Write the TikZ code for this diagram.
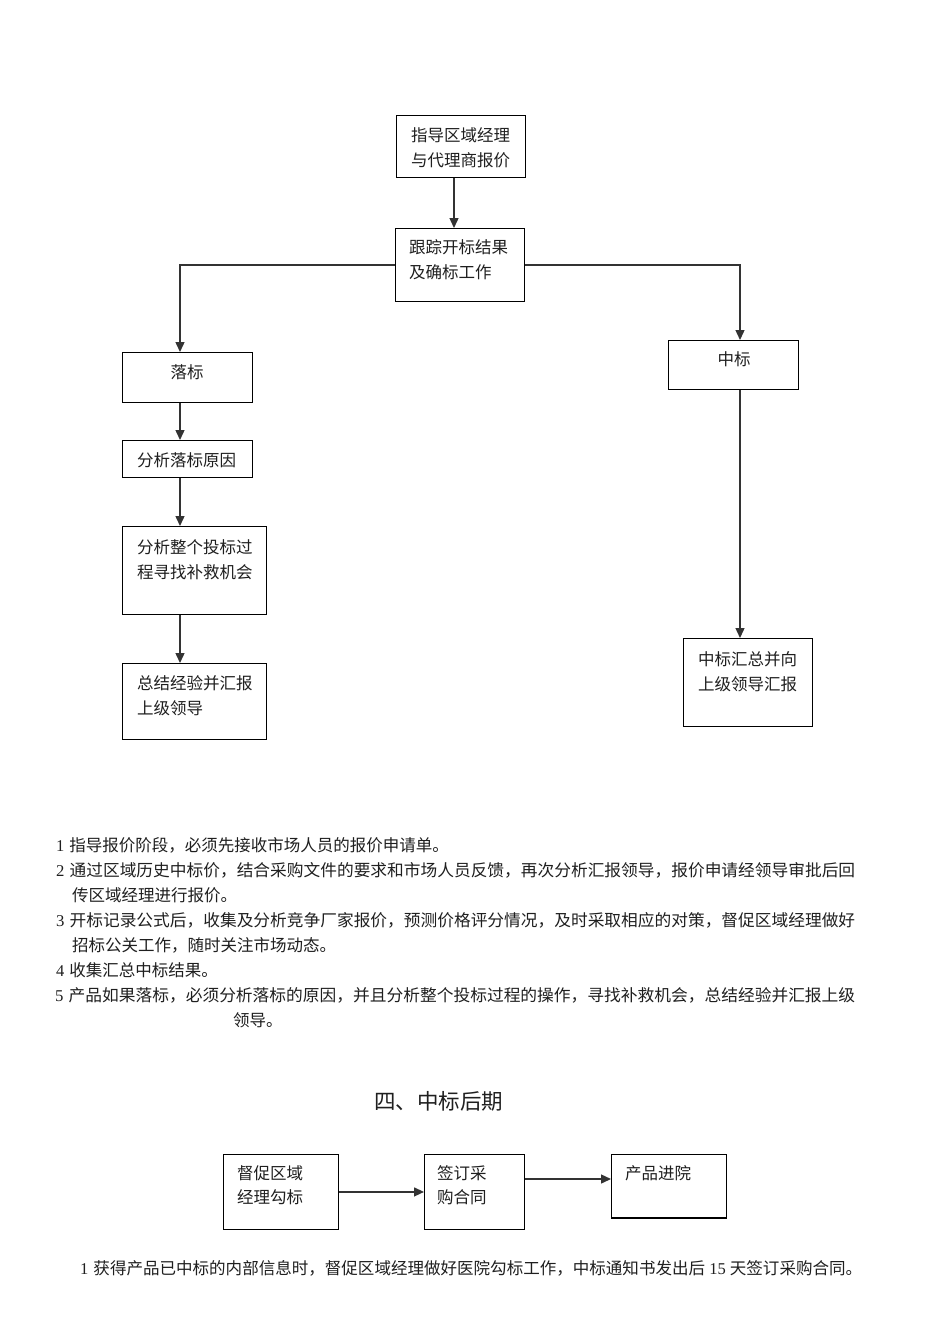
\documentclass[tikz,border=0pt]{standalone}
\usepackage{fontspec}
\usepackage{graphicx}
\setmainfont{Noto Sans CJK SC}
\newfontfamily\latn{Liberation Serif}
\usetikzlibrary{arrows.meta}
\newcommand{\hfit}[2]{\resizebox{#1}{\height}{#2}}
\begin{document}
\begin{tikzpicture}[x=1pt,y=-1pt,
  box/.style={draw, line width=0.9pt, anchor=north west, inner sep=0pt},
  txt/.style={anchor=west, inner sep=0pt, text=black!88, font=\fontsize{16.5}{20}\selectfont},
  ctxt/.style={anchor=center, inner sep=0pt, text=black!88, font=\fontsize{16.5}{20}\selectfont},
  arr/.style={line width=1.4pt, black!80, -{Triangle[length=10pt,width=9pt]}},
]
\fill[white] (0,0) rectangle (950,1344);
\useasboundingbox (0,0) rectangle (950,1344);

% top flowchart boxes
\node[box, minimum width=129pt, minimum height=62pt] (A) at (396,115) {};
\node[txt] at (411,135) {指导区域经理};
\node[txt] at (411,160) {与代理商报价};

\node[box, minimum width=129pt, minimum height=73pt] (B) at (395,228) {};
\node[txt] at (409,247) {跟踪开标结果};
\node[txt] at (409,272) {及确标工作};

\node[box, minimum width=130pt, minimum height=50pt] (L1) at (122,352) {};
\node[ctxt] at (187,372) {落标};

\node[box, minimum width=130pt, minimum height=37pt] (L2) at (122,440) {};
\node[txt] at (137,460) {分析落标原因};

\node[box, minimum width=144pt, minimum height=88pt] (L3) at (122,526) {};
\node[txt] at (137,547) {分析整个投标过};
\node[txt] at (137,572) {程寻找补救机会};

\node[box, minimum width=144pt, minimum height=76pt] (L4) at (122,663) {};
\node[txt] at (137,683) {总结经验并汇报};
\node[txt] at (137,708) {上级领导};

\node[box, minimum width=130pt, minimum height=49pt] (W1) at (668,340) {};
\node[ctxt] at (734,359) {中标};

\node[box, minimum width=129pt, minimum height=88pt] (W2) at (683,638) {};
\node[txt] at (698,659) {中标汇总并向};
\node[txt] at (698,684) {上级领导汇报};

% connectors
\draw[arr] (A.south -| 454,0) -- (B.north -| 454,0);
\draw[arr] (B.west) -| (L1.north -| 180,0);
\draw[arr] (B.east) -| (W1.north -| 740,0);
\draw[arr] (L1.south -| 180,0) -- (L2.north -| 180,0);
\draw[arr] (L2.south -| 180,0) -- (L3.north -| 180,0);
\draw[arr] (L3.south -| 180,0) -- (L4.north -| 180,0);
\draw[arr] (W1.south -| 740,0) -- (W2.north -| 740,0);

% notes
\node[txt] at (56,845) {{\latn 1}\hspace{5pt}指导报价阶段，必须先接收市场人员的报价申请单。};
\node[txt] at (56,870) {\hfit{799pt}{{\latn 2}\hspace{5pt}通过区域历史中标价，结合采购文件的要求和市场人员反馈，再次分析汇报领导，报价申请经领导审批后回}};
\node[txt] at (72,895) {传区域经理进行报价。};
\node[txt] at (56,920) {\hfit{799pt}{{\latn 3}\hspace{5pt}开标记录公式后，收集及分析竞争厂家报价，预测价格评分情况，及时采取相应的对策，督促区域经理做好}};
\node[txt] at (72,945) {招标公关工作，随时关注市场动态。};
\node[txt] at (56,970) {{\latn 4}\hspace{5pt}收集汇总中标结果。};
\node[txt] at (55,995) {\hfit{800pt}{{\latn 5}\hspace{5pt}产品如果落标，必须分析落标的原因，并且分析整个投标过程的操作，寻找补救机会，总结经验并汇报上级}};
\node[txt] at (233,1020) {领导。};

% section title
\node[anchor=west, inner sep=0pt, text=black!88, font=\fontsize{21.5}{25}\selectfont] at (374,1101) {四、中标后期};

% bottom flow
\node[box, minimum width=115pt, minimum height=75pt] (C1) at (223,1154) {};
\node[txt] at (237,1173) {督促区域};
\node[txt] at (237,1197) {经理勾标};

\node[box, minimum width=100pt, minimum height=75pt] (C2) at (424,1154) {};
\node[txt] at (437,1173) {签订采};
\node[txt] at (437,1197) {购合同};

\node[box, minimum width=115pt, minimum height=63pt] (C3) at (611,1154) {};
\draw[line width=1.6pt] (C3.south west) -- (C3.south east);
\node[txt] at (625,1173) {产品进院};

\draw[arr] (C1.east) -- (C2.west);
\draw[arr] (C2.east |- 0,1179) -- (C3.west |- 0,1179);

\node[txt] at (80,1268) {\hfit{782pt}{{\latn 1}\hspace{5pt}获得产品已中标的内部信息时，督促区域经理做好医院勾标工作，中标通知书发出后{\latn\ 15\ }天签订采购合同。}};
\end{tikzpicture}
\end{document}
